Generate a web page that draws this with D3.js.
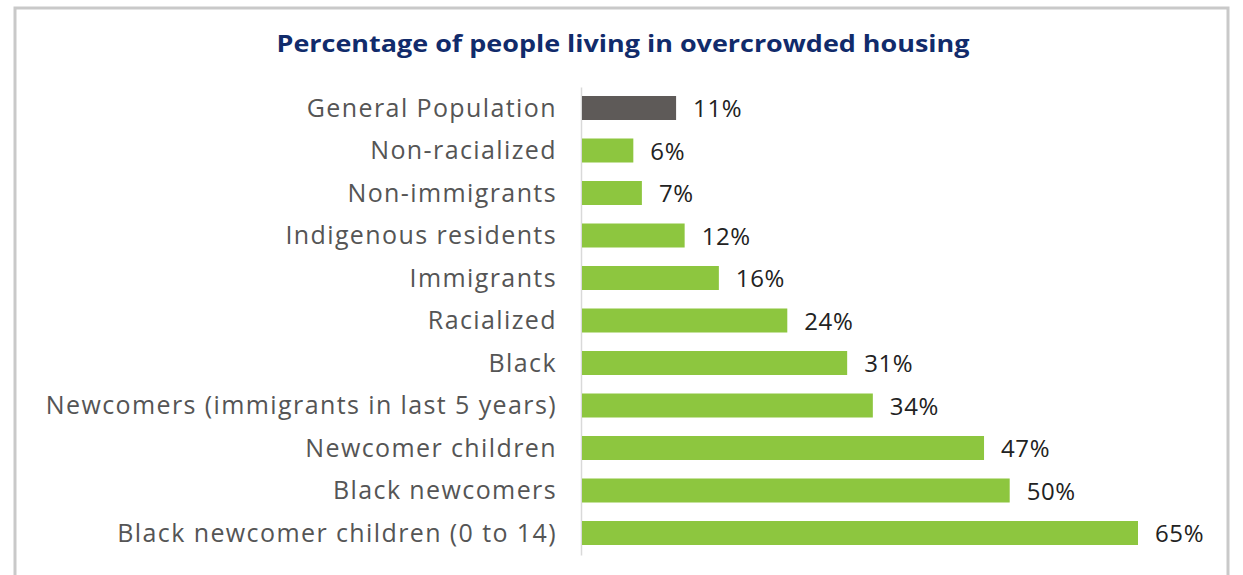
<!DOCTYPE html>
<html>
<head>
<meta charset="utf-8">
<script src="https://cdn.jsdelivr.net/npm/d3@7"></script>
<style>
  html, body { margin: 0; padding: 0; background: #fff; }
  svg { display: block; }
</style>
</head>
<body>
<svg id="chart" width="1243" height="575"></svg>
<script>
const categories = [
  "General Population",
  "Non-racialized",
  "Non-immigrants",
  "Indigenous residents",
  "Immigrants",
  "Racialized",
  "Black",
  "Newcomers (immigrants in last 5 years)",
  "Newcomer children",
  "Black newcomers",
  "Black newcomer children (0 to 14)"
];
const values = [11, 6, 7, 12, 16, 24, 31, 34, 47, 50, 65];
const valueLabels = ["11%", "6%", "7%", "12%", "16%", "24%", "31%", "34%", "47%", "50%", "65%"];
const title = "Percentage of people living in overcrowded housing";

const svg = d3.select("#chart");

// frame
svg.append("rect")
  .attr("x", 15).attr("y", 8)
  .attr("width", 1213).attr("height", 600)
  .attr("fill", "#fff")
  .attr("stroke", "#c9c9c9")
  .attr("stroke-width", 3);

// title
svg.append("text")
  .attr("x", 623).attr("y", 52)
  .attr("text-anchor", "middle")
  .attr("font-family", "'Open Sans', sans-serif")
  .attr("font-weight", 700)
  .attr("font-size", 23)
  .attr("fill", "#112b6b")
  .attr("textLength", 693)
  .attr("lengthAdjust", "spacingAndGlyphs")
  .text(title);

const x = d3.scaleLinear().domain([0, 65]).range([582, 1138]);
const y = d3.scalePoint().domain(categories).range([108, 533]);
const barH = 24;

const axis = svg.append("g")
  .attr("transform", "translate(581,0)")
  .call(d3.axisLeft(d3.scaleBand().domain(categories).range([87, 555])).tickSize(0).tickFormat(""));
axis.select(".domain").attr("stroke", "#d9d9d9").attr("stroke-width", 1.5);

// labels
svg.append("g").selectAll("text")
  .data(categories)
  .join("text")
  .attr("x", 557)
  .attr("y", d => y(d) + 8.5)
  .attr("text-anchor", "end")
  .attr("font-family", "'Open Sans', sans-serif")
  .attr("font-size", 25)
  .attr("letter-spacing", "1.4px")
  .attr("fill", "#555555")
  .text(d => d);

// bars
svg.append("g").selectAll("rect")
  .data(values)
  .join("rect")
  .attr("x", x(0))
  .attr("y", (d, i) => y(categories[i]) - barH / 2)
  .attr("width", d => x(d) - x(0))
  .attr("height", barH)
  .attr("fill", (d, i) => i === 0 ? "#5e5a58" : "#8dc63f");

// value labels
svg.append("g").selectAll("text")
  .data(values)
  .join("text")
  .attr("x", d => x(d) + 17)
  .attr("y", (d, i) => y(categories[i]) + 9)
  .attr("font-family", "'Open Sans', sans-serif")
  .attr("font-size", 24)
  .attr("letter-spacing", "0.6px")
  .attr("fill", "#222222")
  .text((d, i) => valueLabels[i]);
</script>
</body>
</html>
